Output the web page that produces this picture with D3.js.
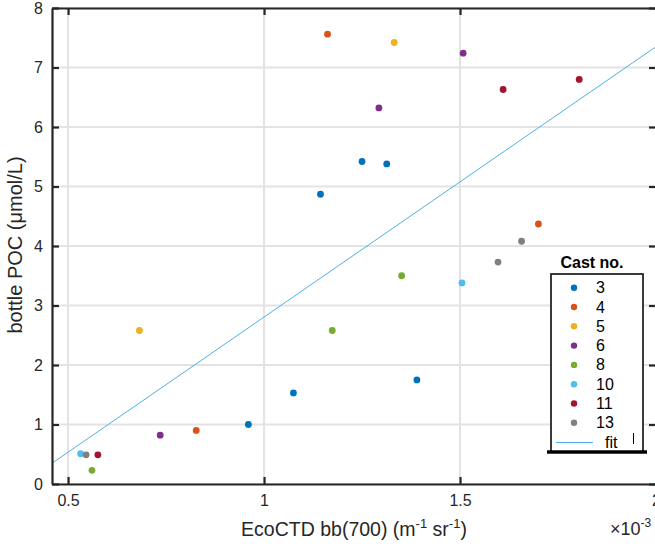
<!DOCTYPE html>
<html><head><meta charset="utf-8">
<script src="https://cdn.jsdelivr.net/npm/d3@7"></script>
<style>
html,body{margin:0;padding:0;background:#fff;overflow:hidden;}
svg{display:block;font-family:"Liberation Sans",Arial,Helvetica,sans-serif;}
</style></head>
<body>
<svg id="chart" width="655" height="546"></svg>
<script>
// ---- data (x in units of 1e-3 m^-1 sr^-1, y in umol/L) ----
const castLabels = ["3","4","5","6","8","10","11","13"];
const cast3x  = [1.144, 1.250, 1.313, 1.075, 0.960, 1.390];
const cast3y  = [4.87, 5.42, 5.38, 1.53, 1.00, 1.75];
const cast4x  = [1.162, 1.700, 0.827];
const cast4y  = [7.56, 4.37, 0.90];
const cast5x  = [1.332, 0.682];
const cast5y  = [7.42, 2.58];
const cast6x  = [1.508, 1.293, 0.735];
const cast6y  = [7.24, 6.32, 0.82];
const cast8x  = [1.351, 1.174, 0.561];
const cast8y  = [3.50, 2.58, 0.23];
const cast10x = [1.505, 0.532];
const cast10y = [3.38, 0.51];
const cast11x = [1.610, 1.804, 0.576];
const cast11y = [6.63, 6.80, 0.49];
const cast13x = [1.597, 1.657, 0.546];
const cast13y = [3.73, 4.08, 0.49];
const fitSlope = 4.544;      // per 1e-3
const fitIntercept = -1.738;
const xTicks = [0.5, 1, 1.5, 2];
const xTickLabels = ["0.5", "1", "1.5", "2"];
const yTicks = [0,1,2,3,4,5,6,7,8];

const castX = [cast3x, cast4x, cast5x, cast6x, cast8x, cast10x, cast11x, cast13x];
const castY = [cast3y, cast4y, cast5y, cast6y, cast8y, cast10y, cast11y, cast13y];
const colors = ["#0072BD","#D95319","#EDB120","#7E2F8E","#77AC30","#4DBEEE","#A2142F","#808080"];

const svg = d3.select("#chart");
const L = 52, R = 656, T = 8, B = 484;
const x = d3.scaleLinear().domain([0.459, 2.0]).range([L, R]);
const y = d3.scaleLinear().domain([0, 8]).range([B, T]);

// grid
const grid = svg.append("g");
grid.selectAll("line.gx").data(xTicks).join("line")
  .attr("x1", d => x(d)).attr("x2", d => x(d)).attr("y1", T).attr("y2", B)
  .attr("stroke", "#e3e3e3").attr("stroke-width", 2);
grid.selectAll("line.gy").data(yTicks).join("line")
  .attr("x1", L).attr("x2", R).attr("y1", d => y(d)).attr("y2", d => y(d))
  .attr("stroke", "#e3e3e3").attr("stroke-width", 2);

// clip
svg.append("clipPath").attr("id","clip").append("rect")
  .attr("x", L).attr("y", T).attr("width", R - L).attr("height", B - T);

// fit line
const xd = x.domain();
svg.append("line").attr("clip-path","url(#clip)")
  .attr("x1", x(xd[0])).attr("y1", y(fitSlope*xd[0] + fitIntercept))
  .attr("x2", x(xd[1])).attr("y2", y(fitSlope*xd[1] + fitIntercept))
  .attr("stroke", "#4DB0E8").attr("stroke-width", 1);

// points
castLabels.forEach((c, i) => {
  const pts = castX[i].map((v, j) => [v, castY[i][j]]);
  svg.append("g").selectAll("circle").data(pts).join("circle")
    .attr("cx", d => x(d[0])).attr("cy", d => y(d[1])).attr("r", 3.4)
    .attr("fill", colors[i]);
});

// axes
const axisColor = "#262626";
const xAxisB = d3.axisBottom(x).tickValues(xTicks).tickFormat((d,i) => xTickLabels[i]).tickSizeInner(-7).tickSizeOuter(0).tickPadding(11);
const gxb = svg.append("g").attr("transform", `translate(0,${B})`).call(xAxisB);
const xAxisT = d3.axisTop(x).tickValues(xTicks).tickFormat("").tickSizeInner(-7).tickSizeOuter(0);
const gxt = svg.append("g").attr("transform", `translate(0,${T})`).call(xAxisT);
const yAxisL = d3.axisLeft(y).tickValues(yTicks).tickSizeInner(-7).tickSizeOuter(0).tickPadding(9);
const gyl = svg.append("g").attr("transform", `translate(${L},0)`).call(yAxisL);
const yAxisR = d3.axisRight(y).tickValues(yTicks).tickFormat("").tickSizeInner(-7).tickSizeOuter(0);
const gyr = svg.append("g").attr("transform", `translate(${R},0)`).call(yAxisR);
[gxb, gxt, gyl, gyr].forEach(g => {
  g.select(".domain").attr("stroke", axisColor).attr("stroke-width", 2.2);
  g.selectAll(".tick line").attr("stroke", axisColor).attr("stroke-width", 2.2);
  g.selectAll(".tick text").attr("fill", "#262626").attr("font-size", 16).attr("font-family", "Liberation Sans, Arial, sans-serif");
});

// axis labels
svg.append("text").attr("transform", "translate(22,245) rotate(-90)")
  .attr("text-anchor", "middle").attr("font-size", 20).attr("fill", "#262626")
  .text("bottle POC (\u03bcmol/L)");

const xl = svg.append("text").attr("x", 354).attr("y", 536)
  .attr("text-anchor", "middle").attr("font-size", 19.5).attr("fill", "#262626");
xl.append("tspan").text("EcoCTD bb(700) (m");
xl.append("tspan").attr("dy", -8).attr("font-size", 13).text("-1");
xl.append("tspan").attr("dy", 8).text(" sr");
xl.append("tspan").attr("dy", -8).attr("font-size", 13).text("-1");
xl.append("tspan").attr("dy", 8).text(")");

const ex = svg.append("text").attr("x", 610).attr("y", 535)
  .attr("font-size", 18).attr("fill", "#262626");
ex.append("tspan").text("\u00d710");
ex.append("tspan").attr("dy", -8).attr("font-size", 12).text("-3");

// legend
const lg = svg.append("g");
const lx0 = 551, lx1 = 643, ly0 = 274, ly1 = 452;
lg.append("rect").attr("x", lx0).attr("y", ly0).attr("width", lx1 - lx0).attr("height", ly1 - ly0)
  .attr("fill", "#fff").attr("stroke", axisColor).attr("stroke-width", 1.8);
lg.append("line").attr("x1", 547).attr("x2", 647).attr("y1", ly1).attr("y2", ly1)
  .attr("stroke", "#000").attr("stroke-width", 3.5);
lg.append("text").attr("x", 592).attr("y", 268).attr("text-anchor", "middle")
  .attr("font-size", 16).attr("font-weight", "bold").attr("fill", "#000").text("Cast no.");
castLabels.forEach((c, i) => {
  const yy = 287.7 + i * 19.3;
  lg.append("circle").attr("cx", 574).attr("cy", yy).attr("r", 3.2).attr("fill", colors[i]);
  lg.append("text").attr("x", 596).attr("y", yy + 5.5).attr("font-size", 16).attr("fill", "#000").text(c);
});
lg.append("line").attr("x1", 556).attr("x2", 593).attr("y1", 442.5).attr("y2", 442.5)
  .attr("stroke", "#4DB0E8").attr("stroke-width", 1);
lg.append("text").attr("x", 605).attr("y", 448).attr("font-size", 16).attr("fill", "#000").text("fit");
lg.append("line").attr("x1", 633.5).attr("x2", 633.5).attr("y1", 433).attr("y2", 444)
  .attr("stroke", "#000").attr("stroke-width", 1);
</script>
</body></html>
